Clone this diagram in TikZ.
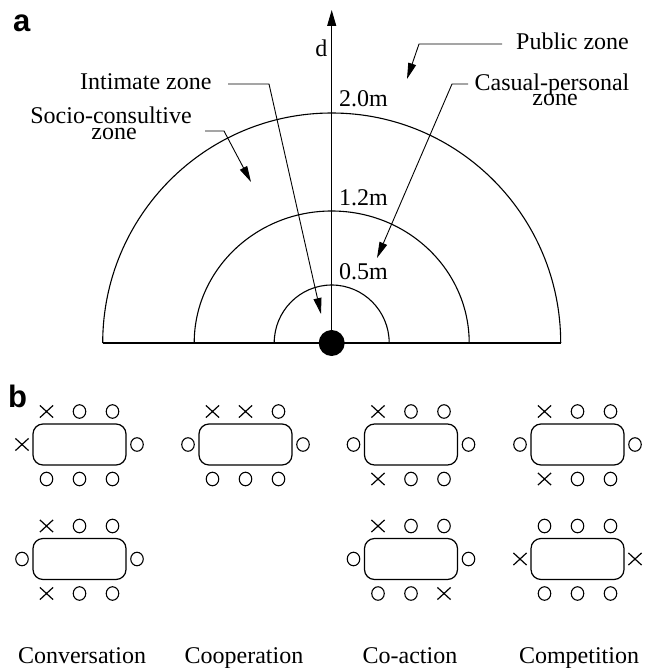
\documentclass[tikz,border=0pt]{standalone}
\usepackage{fontspec}
\setmainfont{Liberation Serif}
\setsansfont{Liberation Sans}
\usetikzlibrary{arrows.meta,shapes.geometric,shapes.misc,calc}

\tikzset{
  lbl/.style={font=\fontsize{24}{24}\selectfont, inner sep=0pt},
  panel/.style={font=\sffamily\bfseries\fontsize{31}{31}\selectfont, inner sep=0pt, anchor=base west},
  zoneline/.style={line width=1.1pt},
  leader/.style={line width=0.9pt, -{Triangle[length=16pt,width=8pt]}},
  tablebox/.style={draw, line width=1.2pt, rounded corners=10pt, minimum width=93pt, minimum height=41pt, inner sep=0pt},
  so/.style={draw, ellipse, line width=1.1pt, minimum width=12.5pt, minimum height=13.5pt, inner sep=0pt},
  sx/.style={draw, cross out, line width=1.2pt, minimum width=12pt, minimum height=11pt, inner sep=0pt},
}

\newcommand\seatthree[6]{%
  \node[s#4] (#1a) at ($(#2)+(-33,#3)$) {};
  \node[s#5] (#1b) at ($(#2)+(0,#3)$) {};
  \node[s#6] (#1c) at ($(#2)+(33,#3)$) {};}
\newcommand\seattable[7]{%
  \node[tablebox] (#1) at (#2,#3) {};
  \seatthree{#1t}{#1}{33}#4
  \node[s#5] (#1l) at ($(#1)+(-57.5,0)$) {};
  \node[s#6] (#1r) at ($(#1)+(57.5,0)$) {};
  \seatthree{#1b}{#1}{-34.5}#7}

\begin{document}
\begin{tikzpicture}[x=1pt,y=1pt]
\useasboundingbox (0,0) rectangle (644,-668);

% ---------- panel a ----------
\node[panel] (pa) at (13,-32) {a};
\coordinate (O) at (331.7,-343);
\coordinate (dtop) at (331.7,-10);

\draw[zoneline] (O) ++(-229,0) arc[start angle=180,end angle=0,x radius=229,y radius=230];
\draw[zoneline] (O) ++(-137.5,0) arc[start angle=180,end angle=0,x radius=137.5,y radius=132];
\draw[zoneline] (O) ++(-57.5,0) arc[start angle=180,end angle=0,x radius=57.5,y radius=58];
\draw[zoneline] (O) ++(-229,0) -- ++(458,0);
\draw[line width=1pt, -{Triangle[length=16pt,width=9pt]}] (O) -- (dtop);
\node[circle, fill=black, minimum size=26pt, inner sep=0pt] (dot) at (O) {};

\node[lbl, anchor=base east] (d) at (327.5,-57) {d};
\node[lbl, anchor=base west] (pub) at (516,-50) {Public zone};
\node[lbl, anchor=base west] (int) at (80,-90) {Intimate zone};
\node[lbl, anchor=base] (cp1) at (552,-91) {Casual-personal};
\node[lbl, anchor=base] (cp2) at (555,-106) {zone};
\node[lbl, anchor=base] (sc1) at (111,-124) {Socio-consultive};
\node[lbl, anchor=base] (sc2) at (114,-140) {zone};
\node[lbl, anchor=base west] (m20) at (339,-107) {2.0m};
\node[lbl, anchor=base west] (m12) at (339,-206) {1.2m};
\node[lbl, anchor=base west] (m05) at (339,-279) {0.5m};

\coordinate (pubA) at (502,-44);
\coordinate (pubB) at (419,-44);
\coordinate (pubT) at (407,-79);
\draw[leader] (pubA) -- (pubB) -- (pubT);

\coordinate (intA) at (228,-84);
\coordinate (intB) at (269,-84);
\coordinate (intT) at (321,-314);
\draw[leader] (intA) -- (intB) -- (intT);

\coordinate (cpA) at (468,-84);
\coordinate (cpB) at (452,-84);
\coordinate (cpT) at (377,-258);
\draw[leader] (cpA) -- (cpB) -- (cpT);

\coordinate (scA) at (205,-131);
\coordinate (scB) at (224,-131);
\coordinate (scT) at (251,-182);
\draw[leader] (scA) -- (scB) -- (scT);

% ---------- panel b ----------
\node[panel] (pb) at (8,-407) {b};

\seattable{T1}{79.5}{-444.5}{xoo}{x}{o}{ooo}
\seattable{T2}{245.5}{-444.5}{xxo}{o}{o}{ooo}
\seattable{T3}{411}{-444.5}{xoo}{o}{o}{xoo}
\seattable{T4}{577.5}{-444.5}{xoo}{o}{o}{xoo}
\seattable{T5}{79.5}{-559}{xoo}{o}{o}{xoo}
\seattable{T6}{411}{-559}{xoo}{o}{o}{oox}
\seattable{T7}{577.5}{-559}{ooo}{x}{x}{ooo}

\node[lbl, anchor=base] (lconv) at (82,-663) {Conversation};
\node[lbl, anchor=base] (lcoop) at (244,-663) {Cooperation};
\node[lbl, anchor=base] (lcoact) at (410,-663) {Co-action};
\node[lbl, anchor=base] (lcomp) at (579,-663) {Competition};
\end{tikzpicture}
\end{document}
